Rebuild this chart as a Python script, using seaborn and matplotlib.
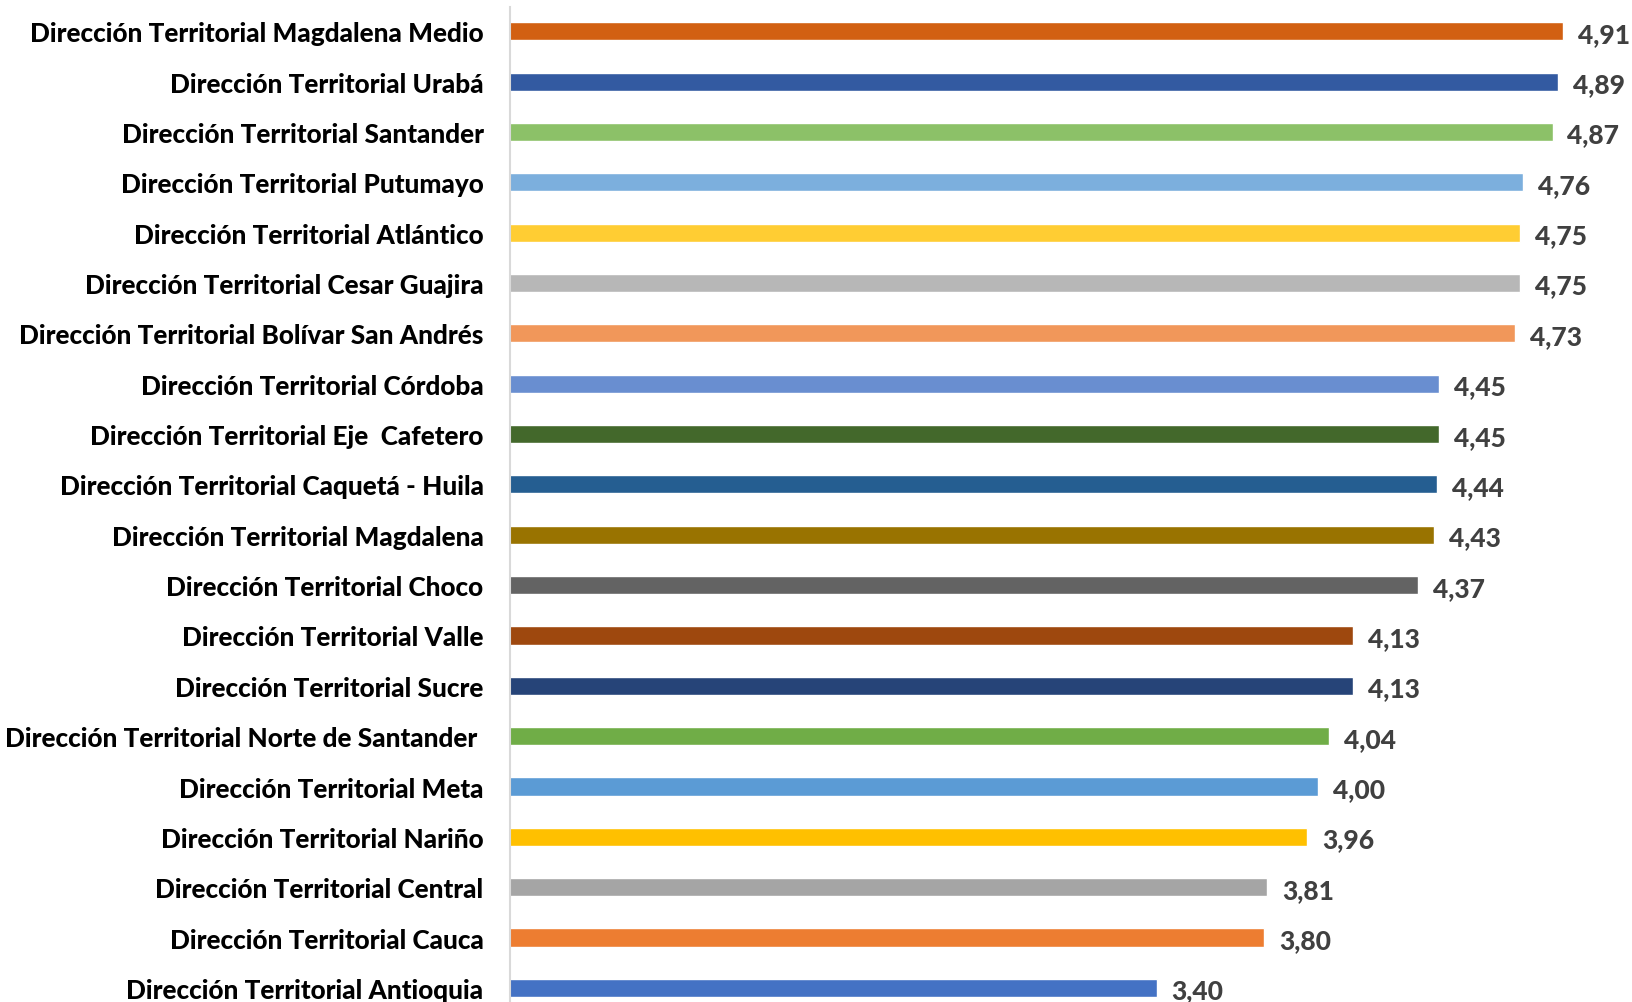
import matplotlib
matplotlib.use("Agg")
import matplotlib.pyplot as plt
import seaborn as sns
import pandas as pd

categories = [
    "Dirección Territorial Magdalena Medio",
    "Dirección Territorial Urabá",
    "Dirección Territorial Santander",
    "Dirección Territorial Putumayo",
    "Dirección Territorial Atlántico",
    "Dirección Territorial Cesar Guajira",
    "Dirección Territorial Bolívar San Andrés",
    "Dirección Territorial Córdoba",
    "Dirección Territorial Eje  Cafetero",
    "Dirección Territorial Caquetá - Huila",
    "Dirección Territorial Magdalena",
    "Dirección Territorial Choco",
    "Dirección Territorial Valle",
    "Dirección Territorial Sucre",
    "Dirección Territorial Norte de Santander ",
    "Dirección Territorial Meta",
    "Dirección Territorial Nariño",
    "Dirección Territorial Central",
    "Dirección Territorial Cauca",
    "Dirección Territorial Antioquia",
]
values = [4.91, 4.89, 4.87, 4.76, 4.75, 4.75, 4.73, 4.45, 4.45, 4.44,
          4.43, 4.37, 4.13, 4.13, 4.04, 4.00, 3.96, 3.81, 3.80, 3.40]
value_labels = ["4,91", "4,89", "4,87", "4,76", "4,75", "4,75", "4,73", "4,45", "4,45", "4,44",
                "4,43", "4,37", "4,13", "4,13", "4,04", "4,00", "3,96", "3,81", "3,80", "3,40"]
colors = ["#D26012", "#335AA1", "#8CC168", "#7CAFDD", "#FFCD33", "#B7B7B7", "#F1975A",
          "#698ED0", "#43682B", "#255E91", "#997300", "#636363", "#9E480E", "#264478",
          "#70AD47", "#5B9BD5", "#FFC000", "#A5A5A5", "#ED7D31", "#4472C4"]

df = pd.DataFrame({"cat": categories, "val": values})

sns.set_theme(style="white")
plt.rcParams["font.family"] = ["Lato", "DejaVu Sans"]

fig = plt.figure(figsize=(16.32, 10.03), dpi=100)
ax = fig.add_axes([510 / 1632, 0.0, 1 - 510 / 1632, 1 - 8 / 1003])

sns.barplot(data=df, y="cat", x="val", hue="cat", palette=colors, orient="h",
            width=0.36, legend=False, ax=ax, saturation=1)

ax.set_xlim(1, 5.165)
ax.set_ylim(19.28, -0.483)
ax.set_xlabel("")
ax.set_ylabel("")
ax.set_xticks([])
for s in ["top", "right", "bottom"]:
    ax.spines[s].set_visible(False)
ax.spines["left"].set_color("#D9D9D9")
ax.spines["left"].set_linewidth(1.5)
ax.tick_params(axis="y", length=0, pad=19)
for t in ax.get_yticklabels():
    t.set_fontsize(18.8)
    t.set_fontweight("black")
    t.set_color("black")

for i, (v, lab) in enumerate(zip(values, value_labels)):
    ax.text(v + 0.055, i + 0.05, lab, va="center", ha="left", fontsize=19,
            fontweight="black", color="#404040", clip_on=False)

fig.savefig("out.png", dpi=100)
